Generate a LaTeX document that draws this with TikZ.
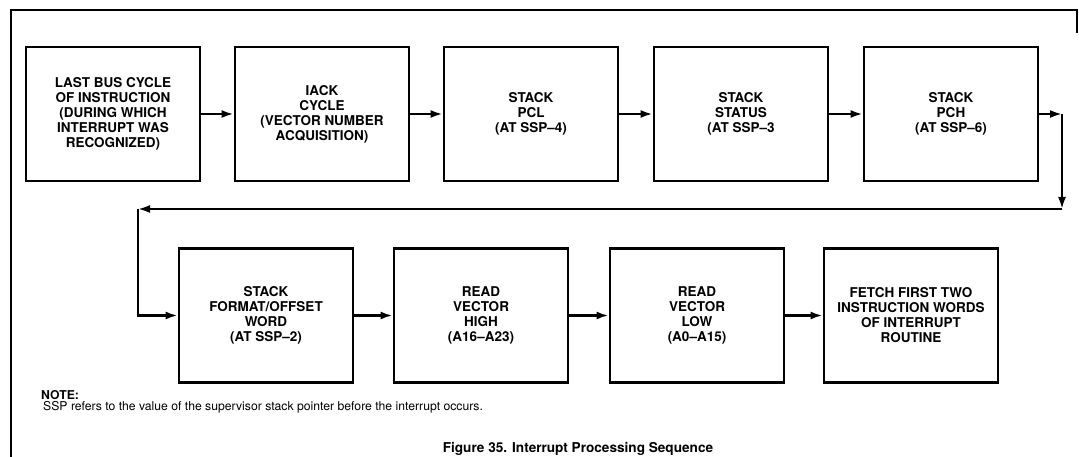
\documentclass[tikz,border=0pt]{standalone}
\usepackage{fontspec}
\setmainfont{TeX Gyre Heros}
\usetikzlibrary{arrows.meta,positioning}

\begin{document}
\begin{tikzpicture}[
  x=1pt,y=-1pt,
  stage/.style={draw,line width=2.8pt,minimum width=174pt,minimum height=134pt,inner sep=0pt,align=center,font=\fontsize{13.5}{15}\selectfont\bfseries},
  flow/.style={line width=2.2pt,-{Latex[length=12pt,width=8pt]}},
  frame/.style={line width=1.3pt},
  note/.style={anchor=base west,inner sep=0pt,font=\fontsize{12.2}{12}\selectfont}
]
  \path[use as bounding box] (0,0) rectangle (1079,457);

  % outer frame (right and bottom edges faded in the print)
  \draw[frame] (11,457) -- (11,10) -- (1077,10) -- (1077,33);

  % first row
  \node[stage] (lastbus) at (113,114) {LAST BUS CYCLE\\OF INSTRUCTION\\(DURING WHICH\\INTERRUPT WAS\\RECOGNIZED)};
  \node[stage] (iack) at (322,114) {IACK\\CYCLE\\(VECTOR NUMBER\\ACQUISITION)};
  \node[stage] (pcl) at (531,114) {STACK\\PCL\\(AT SSP–4)};
  \node[stage] (status) at (741,114) {STACK\\STATUS\\(AT SSP–3};
  \node[stage] (pch) at (951,114) {STACK\\PCH\\(AT SSP–6)};

  % second row
  \node[stage] (format) at (266,315.5) {STACK\\FORMAT/OFFSET\\WORD\\(AT SSP–2)};
  \node[stage] (vechigh) at (481,315.5) {READ\\VECTOR\\HIGH\\(A16–A23)};
  \node[stage] (veclow) at (697,315.5) {READ\\VECTOR\\LOW\\(A0–A15)};
  \node[stage] (fetch) at (911,315.5) {FETCH FIRST TWO\\INSTRUCTION WORDS\\OF INTERRUPT\\ROUTINE};

  % corners of the return path
  \coordinate (turnA) at (1062,114);
  \coordinate (turnB) at (1062,209);
  \coordinate (turnC) at (138,209);

  \draw[flow] (lastbus) -- (iack);
  \draw[flow] (iack) -- (pcl);
  \draw[flow] (pcl) -- (status);
  \draw[flow] (status) -- (pch);
  \draw[flow] (pch) -- (turnA);
  \draw[flow] (turnA) -- (turnB);
  \draw[flow] (turnB) -- (turnC);
  \draw[flow] (turnC) |- (format);
  \draw[flow] (format) -- (vechigh);
  \draw[flow] (vechigh) -- (veclow);
  \draw[flow] (veclow) -- (fetch);

  \node[note,font=\fontsize{12.2}{12}\selectfont\bfseries] (notehead) at (41,399) {NOTE:};
  \node[note] (notebody) at (43,410) {SSP refers to the value of the supervisor stack pointer before the interrupt occurs.};

  \node[anchor=base,inner sep=0pt,font=\fontsize{13.6}{15}\selectfont\bfseries] (caption) at (578,452) {Figure 35. Interrupt Processing Sequence};
\end{tikzpicture}
\end{document}
